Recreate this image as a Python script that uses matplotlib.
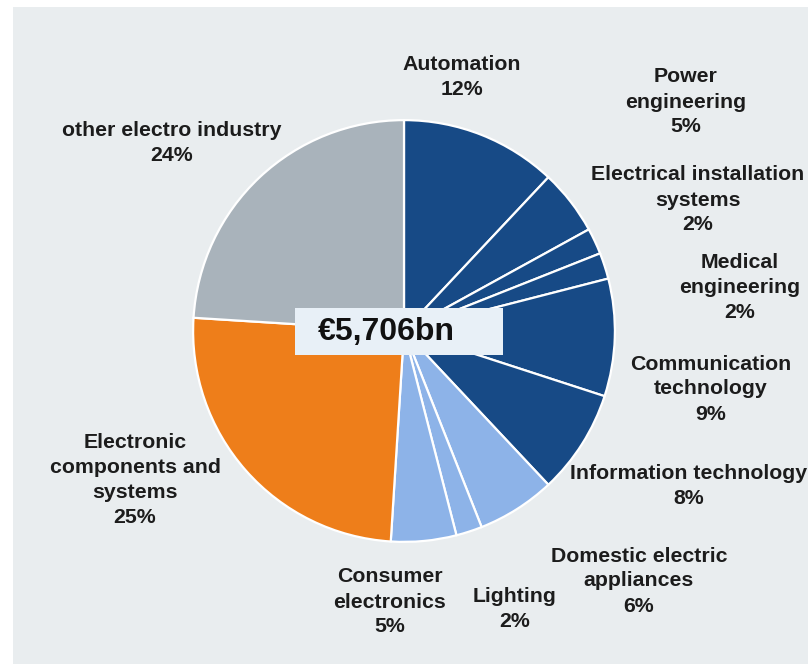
import matplotlib.pyplot as plt
from matplotlib.patches import Rectangle

# Market shares of the global electro industry
segments = ["Automation", "Power\nengineering", "Electrical installation\nsystems",
            "Medical\nengineering", "Communication\ntechnology", "Information technology",
            "Domestic electric\nappliances", "Lighting", "Consumer\nelectronics",
            "Electronic\ncomponents and\nsystems", "other electro industry"]
shares = [12, 5, 2, 2, 9, 8, 6, 2, 5, 25, 24]
total_label = "€5,706bn"

dark_blue = "#174a86"
light_blue = "#8db3e8"
orange = "#ee7e1a"
grey = "#a9b3bb"
colors = [dark_blue] * 6 + [light_blue] * 3 + [orange, grey]

# label centres in pixels (x, y from top)
label_pos = [(462, 77), (686, 102), (698, 200), (740, 287), (711, 389),
             (689, 486), (639, 581), (515, 609), (390, 602), (135, 480), (172, 143)]

W, H = 808, 664
fig = plt.figure(figsize=(W / 100, H / 100), dpi=100, facecolor="white")
fig.patches.append(Rectangle((13 / W, 0), 1, 1 - 7 / H, transform=fig.transFigure,
                             facecolor="#e9edef", edgecolor="none", zorder=-1))

cx, cy, r = 404, 331, 213
ax = fig.add_axes([(cx - r) / W, (H - cy - r) / H, 2 * r / W, 2 * r / H])
ax.pie(shares, colors=colors, startangle=90, counterclock=False, radius=1,
       wedgeprops=dict(edgecolor="white", linewidth=1.6))
ax.set_xlim(-1.01, 1.01)
ax.set_ylim(-1.01, 1.01)
ax.set_aspect("equal")
ax.axis("off")

for name, val, (px, py) in zip(segments, shares, label_pos):
    fig.text(px / W, 1 - py / H, f"{name}\n{val}%", ha="center", va="center",
             fontsize=15.3, fontweight="bold", color="#1c1c1c",
             family="Liberation Sans", linespacing=1.4)

# total in a pale box over the centre
fig.patches.append(Rectangle((295 / W, 1 - 355 / H), 208 / W, 47 / H,
                             transform=fig.transFigure, facecolor="#e8f0f7",
                             edgecolor="none", zorder=5))
fig.text(386 / W, 1 - 332 / H, total_label, ha="center", va="center",
         fontsize=23, fontweight="bold", color="#111111", family="Liberation Sans",
         zorder=6)

fig.savefig("out.png", dpi=100)
